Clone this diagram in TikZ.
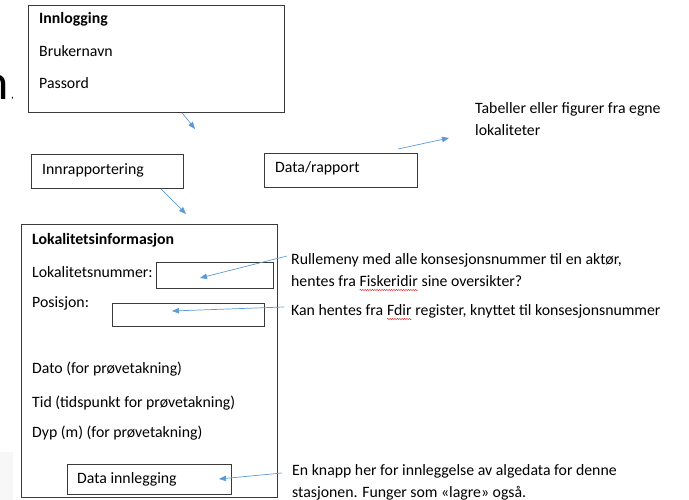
\documentclass[tikz,border=0pt]{standalone}
\usepackage{fontspec}
\setmainfont{Carlito}
\usetikzlibrary{arrows.meta,calc,decorations.pathmorphing}

\definecolor{linkblue}{HTML}{5B9BD5}
\definecolor{boxline}{HTML}{3A3A3A}
\definecolor{spellred}{HTML}{E03030}

% word with a red spell-check squiggle under it
\newcommand\wavyword[1]{\tikz[baseline=(ww.base)]{%
  \node[inner sep=0pt,outer sep=0pt] (ww) {#1};
  \draw[spellred,line width=0.45pt,decorate,
        decoration={snake,amplitude=0.7pt,segment length=2.4pt}]
    ([yshift=-3pt]ww.base west) -- ([yshift=-3pt]ww.base east);}}

\newcommand\bodysize{\fontsize{15.8}{22}\selectfont}

\tikzset{
  box/.style={draw=boxline,line width=0.8pt,inner sep=0pt,anchor=north west},
  field/.style={draw=boxline,line width=0.8pt,inner sep=0pt,anchor=north west},
  txt/.style={inner sep=0pt,anchor=base west,font=\bodysize},
  boldtxt/.style={txt,font=\bodysize\bfseries},
  note/.style={txt,align=left},
  link/.style={draw=linkblue,line width=0.7pt,
    -{Triangle[length=7pt,width=5.5pt]}},
}

\begin{document}
\begin{tikzpicture}[x=1pt,y=-1pt]
\useasboundingbox (0,0) rectangle (689,500);

% stray background fragments at the left edge
\fill[black!3] (0,452) rectangle (13,500);
\node[inner sep=0pt,anchor=base east,font=\fontsize{50}{50}\selectfont] (bign) at (9,100) {n};
\node[inner sep=0pt,anchor=base west,font=\fontsize{11}{11}\selectfont] (bigcomma) at (11,99) {,};

% login panel
\node[box,minimum width=256pt,minimum height=107pt] (login) at (28,5) {};
\node[boldtxt] (logintitle) at (39,24) {Innlogging};
\node[txt] (user) at (39,57) {Brukernavn};
\node[txt] (pass) at (39,89) {Passord};

% menu choices
\node[box,minimum width=152pt,minimum height=34pt] (report) at (31,154) {};
\node[txt] (reporttxt) at (42,175) {Innrapportering};
\node[box,minimum width=153pt,minimum height=34pt] (data) at (264,153) {};
\node[txt] (datatxt) at (275,173) {Data/rapport};

% site information form
\node[box,minimum width=256pt,minimum height=273pt] (site) at (21,224) {};
\node[boldtxt] (sitetitle) at (32,244) {Lokalitetsinformasjon};
\node[txt] (sitenr) at (32,277) {Lokalitetsnummer:};
\node[field,minimum width=117pt,minimum height=26pt] (sitenrfield) at (156,262) {};
\node[txt] (pos) at (32,307) {Posisjon:};
\node[field,minimum width=152pt,minimum height=23pt] (posfield) at (112,303) {};
\node[txt] (date) at (32,373) {Dato (for prøvetakning)};
\node[txt] (time) at (32,407) {Tid (tidspunkt for prøvetakning)};
\node[txt] (depth) at (32,437) {Dyp (m) (for prøvetakning)};
\node[field,minimum width=164pt,minimum height=30pt] (save) at (67,464) {};
\node[txt] (savetxt) at (77,483) {Data innlegging};

% explanatory notes (anchored at the baseline of their last line)
\node[note] (notetab) at (475,136) {Tabeller eller figurer fra egne\\lokaliteter};
\node[note] (notenr) at (291,287) {Rullemeny med alle konsesjonsnummer til en aktør,\\hentes fra \wavyword{Fiskeridir} sine oversikter?};
\node[note] (notepos) at (291,316) {Kan hentes fra \wavyword{Fdir} register, knyttet til konsesjonsnummer};
\node[note] (notesave) at (292,497) {En knapp her for innleggelse av algedata for denne\\stasjonen. Funger som «lagre» også.};

% connector end points
\coordinate (loginout) at ($(login.south west)!0.6!(login.south east)$);
\coordinate (loginend) at (195,129);
\coordinate (reportout) at ($(report.south west)!0.85!(report.south east)$);
\coordinate (reportend) at (186,214);
\coordinate (datastart) at (398,149);
\coordinate (dataend) at (449,138);
\coordinate (nrstart) at (287,256);
\coordinate (nrend) at (200,278);
\coordinate (posstart) at (284,307);
\coordinate (posend) at (172,311);
\coordinate (savestart) at (282,473);
\coordinate (saveend) at (219,479);

\draw[link] (loginout) -- (loginend);
\draw[link] (reportout) -- (reportend);
\draw[link] (datastart) -- (dataend);
\draw[link] (nrstart) -- (nrend);
\draw[link] (posstart) -- (posend);
\draw[link] (savestart) -- (saveend);
\end{tikzpicture}
\end{document}
